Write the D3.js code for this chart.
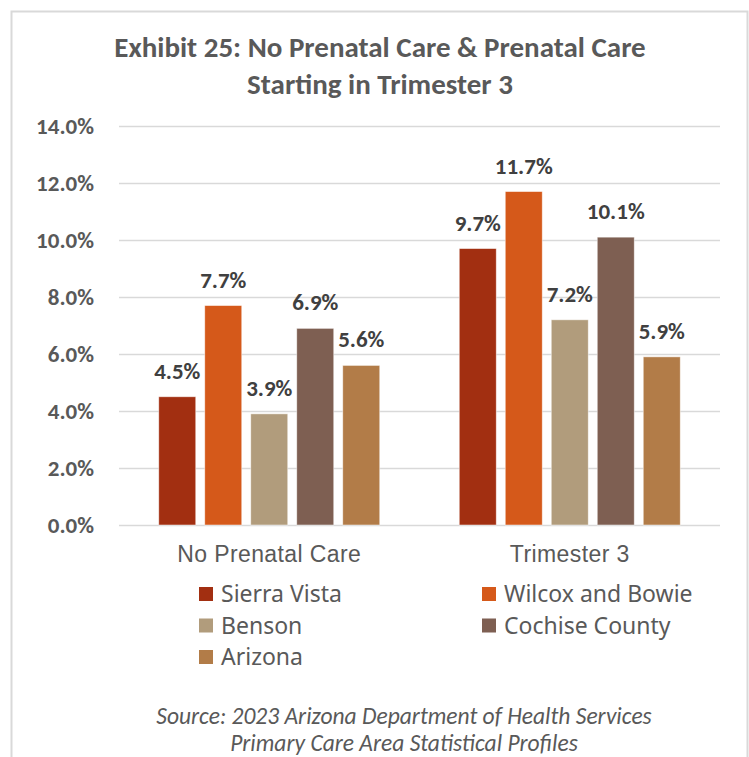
<!DOCTYPE html>
<html>
<head>
<meta charset="utf-8">
<script src="https://cdn.jsdelivr.net/npm/d3@7"></script>
<style>
  body { margin: 0; background: #fff; }
  svg { display: block; }
</style>
</head>
<body>
<div id="chart"></div>
<script>
var categories = ["No Prenatal Care", "Trimester 3"];
var seriesNames = ["Sierra Vista", "Wilcox and Bowie", "Benson", "Cochise County", "Arizona"];
var seriesColors = ["#a22f11", "#d5591a", "#b19c7c", "#7e5f52", "#b27c48"];
var noPrenatal = [0.045, 0.077, 0.039, 0.069, 0.056];
var trimester3 = [0.097, 0.117, 0.072, 0.101, 0.059];
var yTicks = [0, 0.02, 0.04, 0.06, 0.08, 0.10, 0.12, 0.14];
var titleLines = ["Exhibit 25: No Prenatal Care & Prenatal Care", "Starting in Trimester 3"];
var sourceLines = ["Source: 2023 Arizona Department of Health Services", "Primary Care Area Statistical Profiles"];

var rows = categories.map(function(c, i) {
  var vals = i === 0 ? noPrenatal : trimester3;
  return { cat: c, values: seriesNames.map(function(s, j) { return { name: s, v: vals[j] }; }) };
});

var W = 749, H = 757;
var calibri = "Carlito, Calibri, Lato, 'Open Sans', sans-serif";

var svg = d3.select("#chart").append("svg")
    .attr("width", W)
    .attr("height", H);

// outer chart border
svg.append("rect")
    .attr("x", 11.5).attr("y", 11.5)
    .attr("width", 736).attr("height", 780)
    .attr("fill", "#fff")
    .attr("stroke", "#d9d9d9")
    .attr("stroke-width", 2);

var plot = { left: 119, right: 720, top: 126, bottom: 525 };

var x0 = d3.scaleBand().domain(categories).range([plot.left, plot.right]);
var groupW = 221;
var x1 = d3.scaleBand().domain(seriesNames)
    .range([(x0.bandwidth() - groupW) / 2, (x0.bandwidth() + groupW) / 2])
    .paddingInner(9 / 46);
var y = d3.scaleLinear().domain([0, 0.14]).range([plot.bottom, plot.top]);
var color = d3.scaleOrdinal().domain(seriesNames).range(seriesColors);

// title
svg.append("text")
    .attr("x", 380).attr("y", 57)
    .attr("text-anchor", "middle")
    .style("font-family", calibri)
    .style("font-weight", "bold")
    .style("font-size", "29px")
    .attr("fill", "#595959")
  .selectAll("tspan").data(titleLines).enter().append("tspan")
    .attr("x", 380)
    .attr("dy", function(d, i) { return i === 0 ? 0 : 37; })
    .text(function(d) { return d; });

// y axis with gridlines
var yAxis = d3.axisLeft(y)
    .tickValues(yTicks)
    .tickFormat(d3.format(".1%"))
    .tickSize(-(plot.right - plot.left))
    .tickPadding(25);

var gY = svg.append("g")
    .attr("class", "axis axis--y")
    .attr("transform", "translate(" + plot.left + ",0)")
    .call(yAxis);

gY.select(".domain").remove();
gY.selectAll(".tick line")
    .attr("stroke", "#d9d9d9")
    .attr("stroke-width", 1.5);
gY.selectAll(".tick text")
    .attr("fill", "#595959")
    .style("font-family", calibri)
    .style("font-weight", "bold")
    .style("font-size", "23px");

// bars
var groups = svg.append("g").selectAll("g.group")
    .data(rows)
  .enter().append("g")
    .attr("class", "group")
    .attr("transform", function(d) { return "translate(" + x0(d.cat) + ",0)"; });

groups.selectAll("rect")
    .data(function(d) { return d.values; })
  .enter().append("rect")
    .attr("x", function(d) { return x1(d.name); })
    .attr("y", function(d) { return y(d.v); })
    .attr("width", x1.bandwidth())
    .attr("height", function(d) { return y(0) - y(d.v); })
    .attr("fill", function(d) { return color(d.name); })
    .attr("stroke", "#fff")
    .attr("stroke-opacity", 0.6)
    .attr("stroke-width", 0.8);

groups.selectAll("text.value")
    .data(function(d) { return d.values; })
  .enter().append("text")
    .attr("class", "value")
    .attr("x", function(d) { return x1(d.name) + x1.bandwidth() / 2; })
    .attr("y", function(d) { return y(d.v) - 18; })
    .attr("text-anchor", "middle")
    .attr("fill", "#404040")
    .style("font-family", calibri)
    .style("font-weight", "bold")
    .style("font-size", "23px")
    .text(function(d) { return d3.format(".1%")(d.v); });

// category labels
svg.append("g").selectAll("text")
    .data(categories)
  .enter().append("text")
    .attr("x", function(d) { return x0(d) + x0.bandwidth() / 2; })
    .attr("y", 562)
    .attr("text-anchor", "middle")
    .attr("fill", "#595959")
    .style("font-family", "'Liberation Sans', Arial, sans-serif")
    .style("font-size", "23px")
    .style("letter-spacing", "0.4px")
    .text(function(d) { return d; });

// legend, two columns
var legendX = [199, 482], legendY = 594, legendStep = 31.5;
var legend = svg.append("g").selectAll("g.legend")
    .data(seriesNames)
  .enter().append("g")
    .attr("class", "legend")
    .attr("transform", function(d, i) {
      return "translate(" + legendX[i % 2] + "," + (legendY + Math.floor(i / 2) * legendStep) + ")";
    });

legend.append("rect")
    .attr("x", 0).attr("y", -7)
    .attr("width", 14).attr("height", 14)
    .attr("fill", function(d) { return color(d); });

legend.append("text")
    .attr("x", 22).attr("y", 0)
    .attr("dy", "0.36em")
    .attr("fill", "#595959")
    .style("font-family", "'Noto Sans', 'Open Sans', sans-serif")
    .style("font-size", "23px")
    .text(function(d) { return d; });

// source note
svg.append("text")
    .attr("x", 404).attr("y", 724)
    .attr("text-anchor", "middle")
    .attr("fill", "#595959")
    .style("font-family", calibri)
    .style("font-style", "italic")
    .style("font-size", "23.5px")
  .selectAll("tspan").data(sourceLines).enter().append("tspan")
    .attr("x", 404)
    .attr("dy", function(d, i) { return i === 0 ? 0 : 27; })
    .text(function(d) { return d; });
</script>
</body>
</html>
